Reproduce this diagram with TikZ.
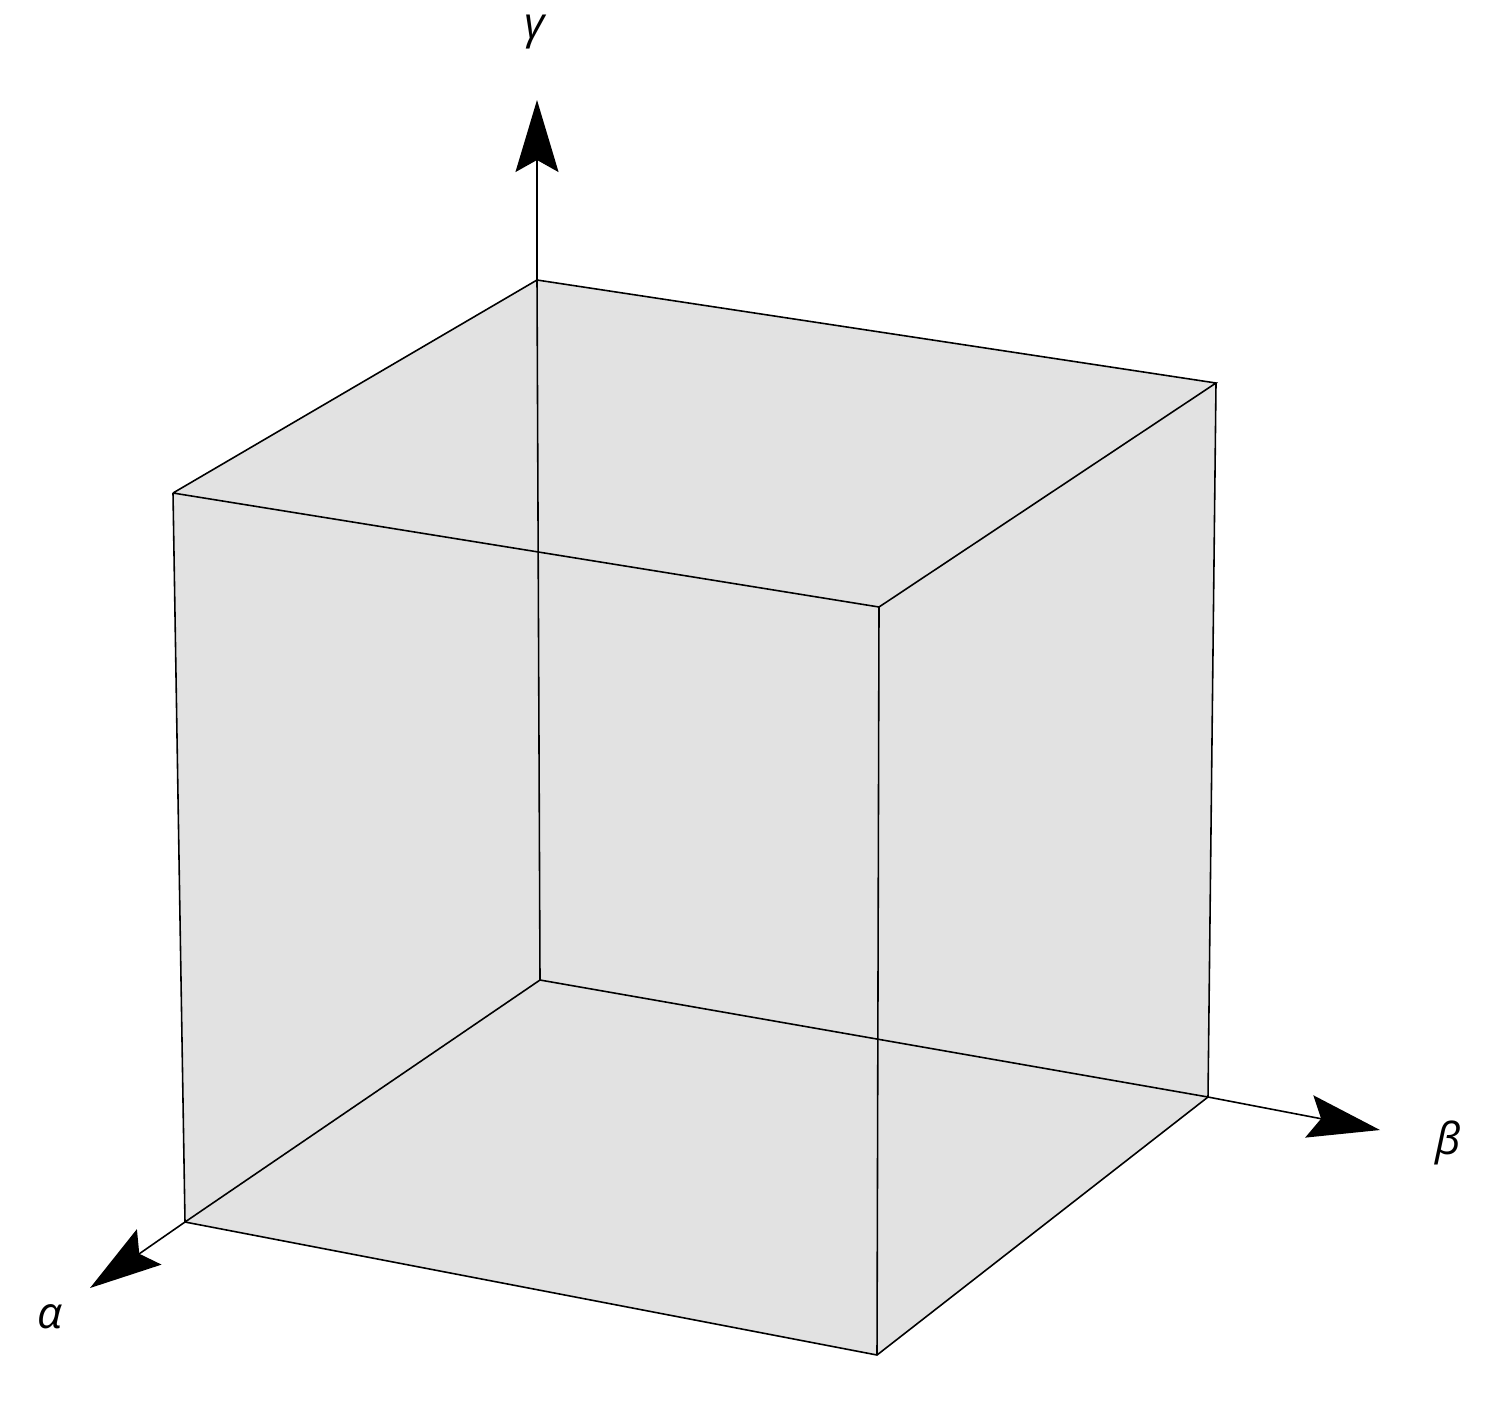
\documentclass[tikz,border=0pt]{standalone}
\usepackage{fontspec}
\setmainfont{Open Sans}
\usetikzlibrary{arrows.meta}

\tikzset{
    edge/.style={line width=0.45pt},
    axis/.style={line width=0.45pt, -{Stealth[length=7.2mm, width=4.3mm, inset=1.2mm]}},
    axislabel/.style={font=\fontsize{12.5}{15}\selectfont\itshape, inner sep=0pt}
}

\begin{document}
\begin{tikzpicture}[x=0.1mm, y=-0.1mm]
    \useasboundingbox (0,0) rectangle (1500,1404);
    % corners of the cube
    \coordinate (O) at (540,980);
    \coordinate (A) at (185,1222);
    \coordinate (B) at (1208,1097);
    \coordinate (AB) at (877,1355);
    \coordinate (Ot) at (537,280);
    \coordinate (At) at (173,493);
    \coordinate (Bt) at (1216,383);
    \coordinate (ABt) at (879,607);
    % shaded body
    \fill[gray!23] (A) -- (AB) -- (B) -- (Bt) -- (Ot) -- (At) -- cycle;
    % edges
    \draw[edge] (O) -- (A);
    \draw[edge] (O) -- (B);
    \draw[edge] (O) -- (Ot);
    \draw[edge] (A) -- (AB) -- (B);
    \draw[edge] (At) -- (ABt) -- (Bt) -- (Ot) -- (At);
    \draw[edge] (A) -- (At);
    \draw[edge] (AB) -- (ABt);
    \draw[edge] (B) -- (Bt);
    % axes
    \coordinate (gtip) at (537,100);
    \coordinate (btip) at (1380,1130);
    \coordinate (atip) at (90,1288);
    \draw[axis] (Ot) -- (gtip);
    \draw[axis] (B) -- (btip);
    \draw[axis] (A) -- (atip);
    \node[axislabel] (glabel) at (535,32) {γ};
    \node[axislabel] (blabel) at (1448,1143) {β};
    \node[axislabel] (alabel) at (50,1317) {α};
\end{tikzpicture}
\end{document}
